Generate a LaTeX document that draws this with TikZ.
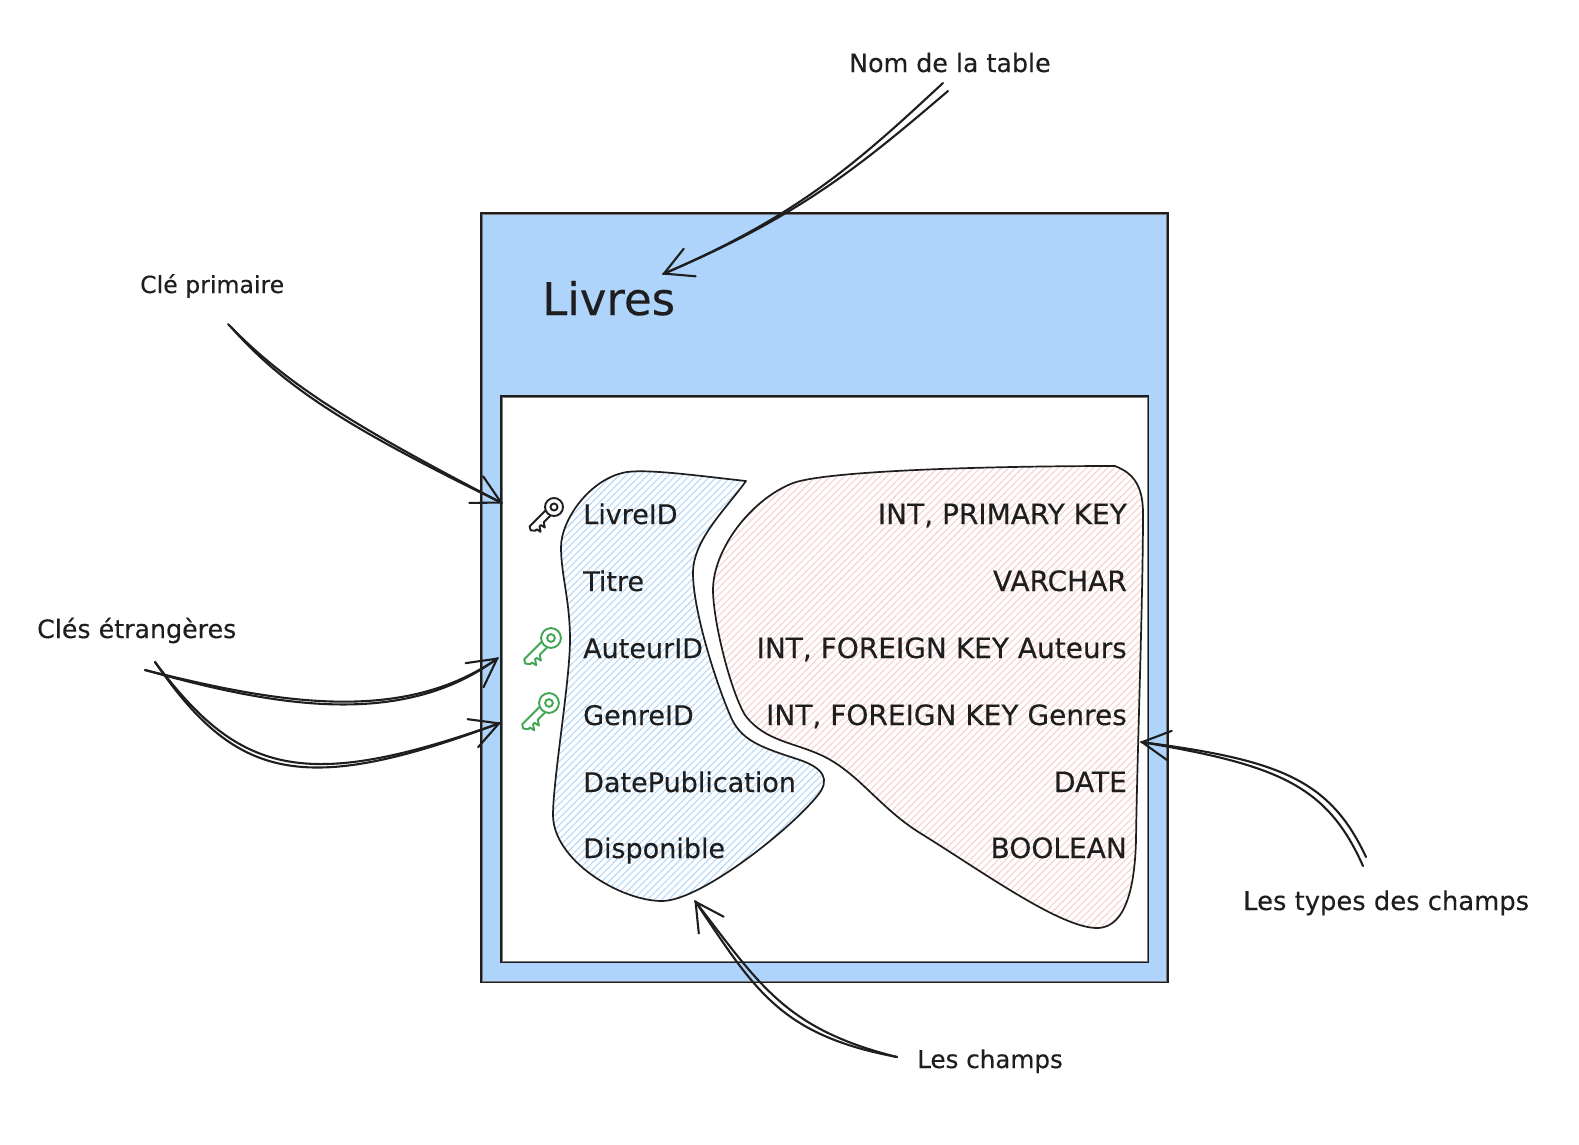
\documentclass[tikz,border=0pt]{standalone}
\usepackage{fontspec}
\setmainfont{DejaVu Sans}[FakeBold=0.3]
\usepackage{xcolor}
\usetikzlibrary{arrows.meta,patterns.meta}
\definecolor{inkblack}{HTML}{1E1E1E}
\definecolor{tableblue}{HTML}{AED4FB}
\definecolor{hatchblue}{HTML}{B4D9FA}
\definecolor{hatchred}{HTML}{F9D0D0}
\definecolor{keygreen}{HTML}{3FA653}
\tikzset{
	tablebox/.style={draw=inkblack,line width=1.8pt,inner sep=0pt,outer sep=0pt},
	secondrule/.style={draw=inkblack!60,line width=.6pt},
	blob/.style={draw=inkblack,line width=1.7pt,line join=round},
	arrowline/.style={draw=inkblack,line width=2.1pt,line cap=round},
	arrowtip/.style={arrowline,-{Straight Barb[length=28pt,width=30pt,round]}},
	fieldlabel/.style={text=inkblack,font=\fontsize{27}{32}\selectfont,inner sep=0pt,anchor=base west},
	typelabel/.style={text=inkblack,font=\fontsize{28}{32}\selectfont,inner sep=0pt,anchor=base east},
	notelabel/.style={text=inkblack,font=\fontsize{25.3}{32}\selectfont,inner sep=0pt,anchor=base west},
	keyicon/.pic={
		\draw[pic actions,line width=1.9pt] (0,0) circle (9) (0,0) circle (3.5);
		\draw[pic actions,line width=1.9pt,line join=round] (8.5,3.5)--(31,3.5)--(33,0)--(30,-3.5)--
			(28,-3.5)--(27,-8)--(24,-3.5)--(22,-3.5)--(21,-8)--(18,-3.5)--(8.5,-3.5);
	}
}
\begin{document}
\begin{tikzpicture}[x=1pt,y=-1pt]
	\useasboundingbox (0,0) rectangle (1579,1144);

	\node[tablebox,fill=tableblue,minimum width=687pt,minimum height=769pt] (tableouter) at (824.5,597.5) {};
	\node[tablebox,fill=white,minimum width=647.5pt,minimum height=566pt] (tableinner) at (824.75,679) {};
	\draw[secondrule] ([shift={(-1.5,1)}]tableouter.north east) rectangle ([shift={(1,-1)}]tableouter.south west);
	\draw[secondrule] ([shift={(-1,1)}]tableinner.north east) rectangle ([shift={(1.5,-1)}]tableinner.south west);

	\path[blob,pattern={Lines[angle=45,distance=5pt,line width=1.1pt]},pattern color=hatchblue]
		(746,481) .. controls (700,476) and (650,469) .. (627,472)
		.. controls (590,478) and (561,520) .. (561,547)
		.. controls (561,575) and (570,600) .. (570,640)
		.. controls (570,680) and (553,780) .. (553,815)
		.. controls (553,860) and (620,901) .. (662,901)
		.. controls (700,901) and (790,830) .. (818,795)
		.. controls (830,780) and (825,768) .. (797,759)
		.. controls (760,747) and (740,740) .. (730,715)
		.. controls (715,680) and (693,610) .. (693,573)
		.. controls (693,540) and (725,510) .. (746,481) -- cycle;
	\path[blob,pattern={Lines[angle=45,distance=5pt,line width=1.1pt]},pattern color=hatchred]
		(1115,466) .. controls (1130,472) and (1143,482) .. (1143,513)
		.. controls (1143,600) and (1137,760) .. (1136,840)
		.. controls (1135,880) and (1128,928) .. (1097,928)
		.. controls (1060,928) and (980,870) .. (920,833)
		.. controls (880,808) and (860,775) .. (825,757)
		.. controls (795,742) and (765,742) .. (745,715)
		.. controls (730,690) and (713,620) .. (713,590)
		.. controls (713,550) and (750,500) .. (793,483)
		.. controls (830,470) and (1000,466) .. (1115,466) -- cycle;

	\node[text=inkblack,font=\fontsize{45}{52}\selectfont,inner sep=0pt,anchor=base west] (tablename) at (542,315) {Livres};

	\foreach \i/\rowy/\fieldname/\fieldtype in {1/524/LivreID/{INT, PRIMARY KEY},2/591/Titre/VARCHAR,
		3/658/AuteurID/{INT, FOREIGN KEY Auteurs},4/725/GenreID/{INT, FOREIGN KEY Genres},
		5/792/DatePublication/DATE,6/858/Disponible/BOOLEAN} {
		\node[fieldlabel] (field\i) at (583,\rowy) {\fieldname};
		\node[typelabel] (type\i) at (1127,\rowy) {\fieldtype};
	}

	\pic[draw=inkblack,rotate=225] (keylivre) at (554,507) {keyicon};
	\pic[draw=keygreen,rotate=225,scale=1.1] (keyauteur) at (551,638) {keyicon};
	\pic[draw=keygreen,rotate=225,scale=1.1] (keygenre) at (549,703) {keyicon};

	\node[notelabel] (notetable) at (849,72) {Nom de la table};
	\node[notelabel,font=\fontsize{23.6}{32}\selectfont] (noteprimaire) at (140,293) {Clé primaire};
	\node[notelabel] (noteetrangeres) at (37,638) {Clés étrangères};
	\node[notelabel,font=\fontsize{25.8}{32}\selectfont] (notetypes) at (1243,910) {Les types des champs};
	\node[notelabel,font=\fontsize{24.6}{32}\selectfont] (notechamps) at (917,1068) {Les champs};

	\coordinate (nomA) at (943,83);
	\coordinate (nomB) at (948,91);
	\coordinate (nomtip) at (663,274);
	\coordinate (primA) at (228,324);
	\coordinate (primB) at (231,327);
	\coordinate (primtip) at (502,503);
	\coordinate (etrA) at (145,670);
	\coordinate (etrAtip) at (498,658);
	\coordinate (etrB) at (155,662);
	\coordinate (etrBtip) at (500,723);
	\coordinate (typA) at (1366,857);
	\coordinate (typB) at (1363,866);
	\coordinate (typtip) at (1141,742);
	\coordinate (chpA) at (897,1057);
	\coordinate (chptip) at (695,901);

	\draw[arrowtip] (nomA) .. controls (860,160) and (800,215) .. (nomtip);
	\draw[arrowline] (nomB) .. controls (860,166) and (800,216) .. (nomtip);
	\draw[arrowtip] (primA) .. controls (285,383) and (350,424) .. (primtip);
	\draw[arrowline] (primB) .. controls (284,387) and (348,428) .. (primtip);
	\draw[arrowtip] (etrA) .. controls (270,705) and (400,730) .. (etrAtip);
	\draw[arrowline] (etrA) .. controls (270,701) and (400,727) .. (etrAtip);
	\draw[arrowtip] (etrB) .. controls (235,778) and (300,798) .. (etrBtip);
	\draw[arrowline] (etrB) .. controls (239,774) and (303,793) .. (etrBtip);
	\draw[arrowtip] (typA) .. controls (1330,780) and (1280,760) .. (typtip);
	\draw[arrowline] (typB) .. controls (1327,785) and (1278,765) .. (typtip);
	\draw[arrowtip] (chpA) .. controls (780,1035) and (755,990) .. (chptip);
	\draw[arrowline] (chpA) .. controls (785,1029) and (760,985) .. (chptip);
\end{tikzpicture}
\end{document}
